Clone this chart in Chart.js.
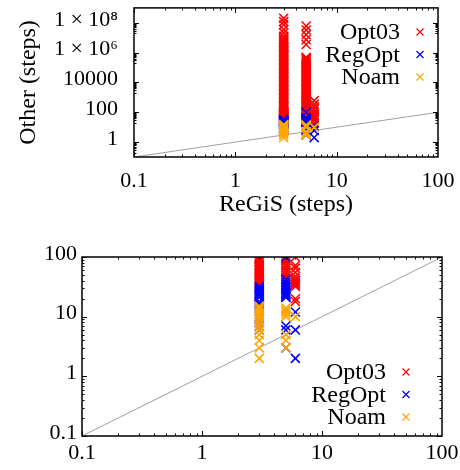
<!DOCTYPE html>
<html>
<head>
<meta charset="utf-8">
<script src="https://cdn.jsdelivr.net/npm/chart.js@4.4.1/dist/chart.umd.min.js"></script>
<style>
  html, body { margin: 0; padding: 0; background: #fff; }
  #wrap { position: relative; width: 460px; height: 470px; }
  canvas { position: absolute; left: 0; }
</style>
</head>
<body>
<div id="wrap">
  <canvas id="topChart" width="460" height="235" style="top:0"></canvas>
  <canvas id="bottomChart" width="460" height="235" style="top:235px"></canvas>
</div>
<script>
// ReGiS step counts that occur in the data
const regisSteps = [3, 5, 6];

// Opt03 steps, one list per ReGiS value (3, 5, 6)
const opt03At3 = [34, 36, 38, 40, 42, 44, 47, 50, 53, 56, 60, 63, 67, 71, 75, 80, 85, 90, 95, 100,
  115, 140, 170, 200, 250, 300, 370, 450, 550, 680, 820, 1000, 1200, 1500, 1900, 2300, 2800, 3400,
  4200, 5100, 6300, 7700, 9400, 11500, 14000, 17000, 21000, 26000, 32000, 39000, 48000, 58000,
  71000, 87000, 106000, 130000, 160000, 195000, 240000, 290000, 355000, 435000, 530000, 650000,
  790000, 970000, 1180000, 1450000, 1770000, 2160000, 2640000, 3230000, 3940000, 4820000, 5890000,
  7200000, 8800000, 12600000, 21000000, 35000000, 74000000, 120000000, 200000000];
const opt03At5 = [42, 46, 50, 55, 60, 66, 72, 79, 87, 95, 110, 135, 165, 200, 245, 300, 370, 450,
  550, 670, 820, 1000, 1220, 1500, 1830, 2240, 2740, 3350, 4100, 5000, 6100, 7500, 9100, 11000,
  13500, 16500, 20000, 24500, 30000, 36500, 44500, 54000, 66000, 81000, 99000, 121000, 148000,
  180000, 220000, 270000, 330000, 400000, 480000, 3500000, 7400000, 16000000, 33000000, 60000000];
const opt03At6 = [18, 20, 32, 34, 36, 38, 40, 43, 47, 55, 65, 72, 100, 150, 230, 350, 600];

// RegOpt steps
const regOptAt3 = [6, 7, 8, 9, 10, 14, 15, 16, 17, 18, 21, 22, 23, 24, 25, 26, 27, 28, 30, 32];
const regOptAt5 = [3, 6, 7, 21, 22, 23, 24, 25, 26, 28, 30, 32, 35, 38, 42, 100];
const regOptAt6 = [2, 6, 12];

// Noam steps
const noamAt3 = [2, 3, 4, 5, 6, 7, 8, 9, 10, 11, 12, 13, 14, 15];
const noamAt5 = [3, 4, 5, 10, 11, 12, 13, 14];
const noamAt6 = [10];

const seriesNames = ["Opt03", "RegOpt", "Noam"];
const diagonal = [0.1, 100];

// tick labels
const xTicks = [0.1, 1, 10, 100];
const xTickLabels = ["0.1", "1", "10", "100"];
const topYTicks = [1, 100, 10000, 1e6, 1e8];
const topYTickLabels = ["1", "100", "10000", "1 × 10⁶", "1 × 10⁸"];
const bottomYTicks = [0.1, 1, 10, 100];
const bottomYTickLabels = ["0.1", "1", "10", "100"];

const colors = ["#ff0000", "#0000ff", "#ffa500"];
const serif = "'Liberation Serif', 'Times New Roman', serif";

function toPoints(lists, yMax) {
  const pts = [];
  lists.forEach((list, i) => {
    for (const v of list) {
      if (v <= yMax) pts.push({ x: regisSteps[i], y: v });
    }
  });
  return pts;
}

// frame with inward major/minor ticks on all four sides
const framePlugin = {
  id: "frame",
  afterDatasetsDraw(chart, args, opts) {
    const { ctx, chartArea: a, scales } = chart;
    const x = scales.x, y = scales.y;
    ctx.save();
    ctx.strokeStyle = "#000";
    ctx.lineWidth = 1;
    const seg = (x1, y1, x2, y2) => {
      ctx.beginPath(); ctx.moveTo(x1, y1); ctx.lineTo(x2, y2); ctx.stroke();
    };
    const tickX = (v, len) => {
      const px = Math.round(x.getPixelForValue(v)) + 0.5;
      seg(px, a.bottom, px, a.bottom - len);
      seg(px, a.top, px, a.top + len);
    };
    const tickY = (v, len) => {
      const py = Math.round(y.getPixelForValue(v)) + 0.5;
      seg(a.left, py, a.left + len, py);
      seg(a.right, py, a.right - len, py);
    };
    for (const d of opts.xMajor) {
      tickX(d, 5);
      for (let k = 2; k <= 9; k++) if (d * k < x.max) tickX(d * k, 2.5);
    }
    for (const d of opts.yMajor) tickY(d, 5);
    for (const d of opts.yMinorBase) {
      for (let k = 2; k <= 9; k++) if (d * k < y.max && d * k > y.min) tickY(d * k, 2.5);
    }
    ctx.lineWidth = 1.5;
    ctx.strokeRect(a.left, a.top, a.right - a.left, a.bottom - a.top);
    ctx.restore();
  }
};

// key: text right-aligned, marker to the right
const keyPlugin = {
  id: "key",
  afterDraw(chart, args, opts) {
    const ctx = chart.ctx;
    ctx.save();
    ctx.font = "24px " + serif;
    ctx.textAlign = "right";
    ctx.textBaseline = "middle";
    seriesNames.forEach((name, i) => {
      const yy = opts.top + i * opts.row;
      ctx.fillStyle = "#000";
      ctx.fillText(name, opts.textRight, yy + 1);
      ctx.strokeStyle = colors[i];
      ctx.lineWidth = 1.2;
      const r = 3.5;
      ctx.beginPath();
      ctx.moveTo(opts.markX - r, yy - r); ctx.lineTo(opts.markX + r, yy + r);
      ctx.moveTo(opts.markX + r, yy - r); ctx.lineTo(opts.markX - r, yy + r);
      ctx.stroke();
    });
    ctx.restore();
  }
};

function makeDatasets(yMax) {
  const groups = [
    [opt03At3, opt03At5, opt03At6],
    [regOptAt3, regOptAt5, regOptAt6],
    [noamAt3, noamAt5, noamAt6]
  ];
  const sets = groups.map((g, i) => ({
    type: "scatter",
    label: seriesNames[i],
    data: toPoints(g, yMax),
    pointStyle: "crossRot",
    pointRadius: 6.4,
    pointBorderWidth: 1.5,
    borderColor: colors[i],
    backgroundColor: colors[i],
    order: 3 - i
  }));
  sets.push({
    type: "line",
    label: "y = x",
    data: diagonal.map(v => ({ x: v, y: v })),
    borderColor: "#a0a0a0",
    borderWidth: 1,
    pointRadius: 0,
    order: 10
  });
  return sets;
}

function fixedBox(size, horizontal) {
  return function (scale) {
    if (horizontal) scale.height = size; else scale.width = size;
    scale.paddingTop = 0; scale.paddingBottom = 0;
    scale.paddingLeft = 0; scale.paddingRight = 0;
  };
}

function setTicks(values) {
  return function (scale) { scale.ticks = values.map(v => ({ value: v })); };
}

function makeChart(id, cfg) {
  return new Chart(document.getElementById(id), {
    type: "scatter",
    data: { datasets: makeDatasets(cfg.yMax) },
    options: {
      responsive: false,
      animation: false,
      events: [],
      layout: { padding: cfg.padding },
      plugins: {
        legend: { display: false },
        tooltip: { enabled: false },
        frame: { xMajor: [0.1, 1, 10], yMajor: cfg.yTicks, yMinorBase: cfg.yMinorBase },
        key: cfg.key
      },
      scales: {
        x: {
          type: "logarithmic",
          min: 0.1, max: 100,
          afterBuildTicks: setTicks(xTicks),
          afterFit: fixedBox(cfg.xHeight, true),
          border: { display: false },
          grid: { display: false, drawTicks: false },
          ticks: {
            color: "#000",
            padding: cfg.xPad,
            maxRotation: 0,
            font: { family: serif, size: 22 },
            callback: (v, i) => xTickLabels[i]
          },
          title: cfg.xTitle ? {
            display: true, text: cfg.xTitle, color: "#000",
            font: { family: serif, size: 24 }, padding: { top: 0, bottom: 16 }
          } : { display: false }
        },
        y: {
          type: "logarithmic",
          min: cfg.yMin, max: cfg.yMax,
          afterBuildTicks: setTicks(cfg.yTicks),
          afterFit: fixedBox(cfg.yWidth, false),
          border: { display: false },
          grid: { display: false, drawTicks: false },
          ticks: {
            color: "#000",
            padding: cfg.yPad,
            labelOffset: -3,
            font: { family: serif, size: 22 },
            callback: (v, i) => cfg.yLabels[i]
          },
          title: cfg.yTitle ? {
            display: true, text: cfg.yTitle, color: "#000",
            font: { family: serif, size: 24 }, padding: { top: 14, bottom: 0 }
          } : { display: false }
        }
      }
    },
    plugins: [framePlugin, keyPlugin]
  });
}

makeChart("topChart", {
  yMin: 0.1, yMax: 1e9,
  yTicks: topYTicks, yLabels: topYTickLabels,
  yMinorBase: [0.1, 10, 1000, 100000, 10000000],
  padding: { top: 6, right: 22, left: 0, bottom: 0 },
  xHeight: 78, yWidth: 134,
  xPad: 11, yPad: 16,
  xTitle: "ReGiS (steps)", yTitle: "Other (steps)",
  key: { textRight: 400, markX: 420, top: 32, row: 22.5 }
});

makeChart("bottomChart", {
  yMin: 0.1, yMax: 100,
  yTicks: bottomYTicks, yLabels: bottomYTickLabels,
  yMinorBase: [0.1, 1, 10],
  padding: { top: 22, right: 18, left: 0, bottom: 0 },
  xHeight: 34, yWidth: 82,
  xPad: 4, yPad: 5,
  key: { textRight: 386, markX: 406, top: 137, row: 22.5 }
});
</script>
</body>
</html>
